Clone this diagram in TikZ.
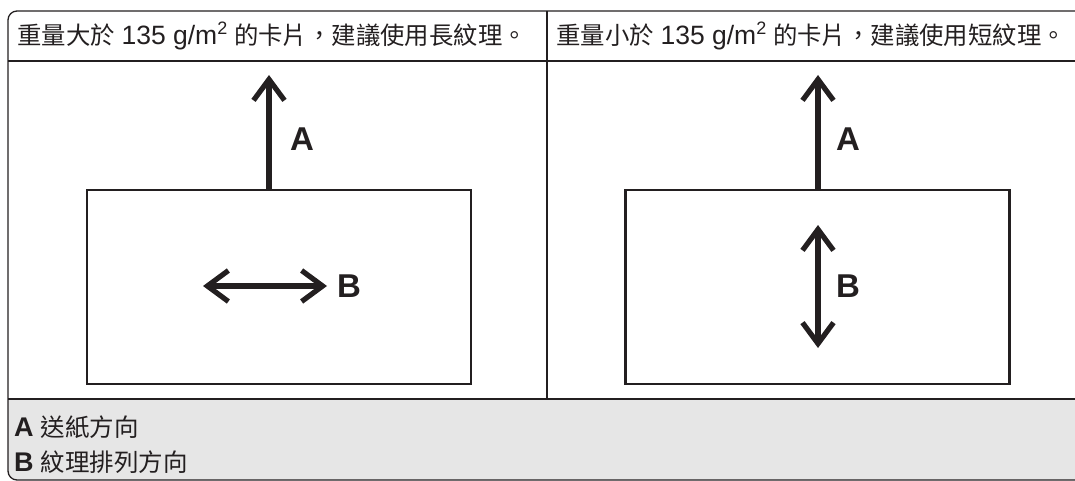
\documentclass[tikz,border=0pt]{standalone}
\usepackage{fontspec}
\setmainfont{Liberation Sans}
\newfontfamily\cjk{Noto Sans CJK TC}
\usetikzlibrary{arrows.meta}
\definecolor{legendgray}{HTML}{E6E6E6}
\definecolor{ink}{HTML}{231F20}
\newcommand{\lat}[1]{{\fontsize{26.5}{28}\selectfont #1}}
\newcommand{\latleg}[1]{{\fontsize{27}{28}\selectfont #1}}
\newcommand{\sqr}{\raisebox{0.4em}{\fontsize{18}{18}\selectfont 2}}
\tikzset{
  frameline/.style={draw=ink, line width=1.3pt},
  card/.style={draw=ink, line width=2.8pt, minimum width=384pt, minimum height=194pt, inner sep=0pt},
  dirarrow/.style={draw=ink, line width=5.2pt, -{Straight Barb[length=21pt,width=31pt]}},
  dirarrows/.style={draw=ink, line width=5.2pt, {Straight Barb[length=21pt,width=31pt]}-{Straight Barb[length=21pt,width=31pt]}},
  biglabel/.style={font=\fontsize{33}{33}\selectfont\bfseries, text=ink, inner sep=0pt},
  headtext/.style={font=\fontsize{24.4}{27}\selectfont, text=ink, anchor=west, inner sep=0pt},
  legtext/.style={font=\fontsize{24.5}{27}\selectfont, text=ink, anchor=west, inner sep=0pt}
}
\begin{document}
\begin{tikzpicture}[x=1pt,y=-1pt]
\useasboundingbox (0,0) rectangle (1075,481);
\begin{scope}
  \clip (0,0) rectangle (1075,481);
  \begin{scope}
    \clip[rounded corners=9pt] (8,11) rectangle (1095,480);
    \fill[legendgray] (0,399) rectangle (1100,490);
  \end{scope}
  \draw[frameline, rounded corners=9pt] (8,11) rectangle (1095,480);
  \draw[frameline] (8,61) -- (1075,61);
  \draw[frameline] (8,399) -- (1075,399);
  \draw[frameline] (547,11) -- (547,399);
\end{scope}

\node[headtext] (headL) at (17,36) {{\cjk 重量大於} \lat{135 g/m\sqr} {\cjk 的卡片，建議使用長紋理。}};
\node[headtext] (headR) at (556,36) {{\cjk 重量小於} \lat{135 g/m\sqr} {\cjk 的卡片，建議使用短紋理。}};

\node[card] (cardL) at (279,287) {};
\node[card] (cardR) at (817.5,287) {};

\coordinate (tipAL) at (269,75);
\coordinate (tipAR) at (818,75);
\draw[dirarrow] (cardL.north -| tipAL) -- (tipAL);
\draw[dirarrow] (cardR.north -| tipAR) -- (tipAR);

\coordinate (bL1) at (203,286);
\coordinate (bL2) at (327,286);
\draw[dirarrows] (bL1) -- (bL2);
\coordinate (bR1) at (818,225);
\coordinate (bR2) at (818,348);
\draw[dirarrows] (bR1) -- (bR2);

\node[biglabel] (labAL) at (302,139) {A};
\node[biglabel] (labBL) at (349,286) {B};
\node[biglabel] (labAR) at (848,139) {A};
\node[biglabel] (labBR) at (848,286) {B};

\node[legtext] (legA) at (14,427) {\latleg{\textbf{A}} {\cjk 送紙方向}};
\node[legtext] (legB) at (14,462) {\latleg{\textbf{B}} {\cjk 紋理排列方向}};
\end{tikzpicture}
\end{document}
